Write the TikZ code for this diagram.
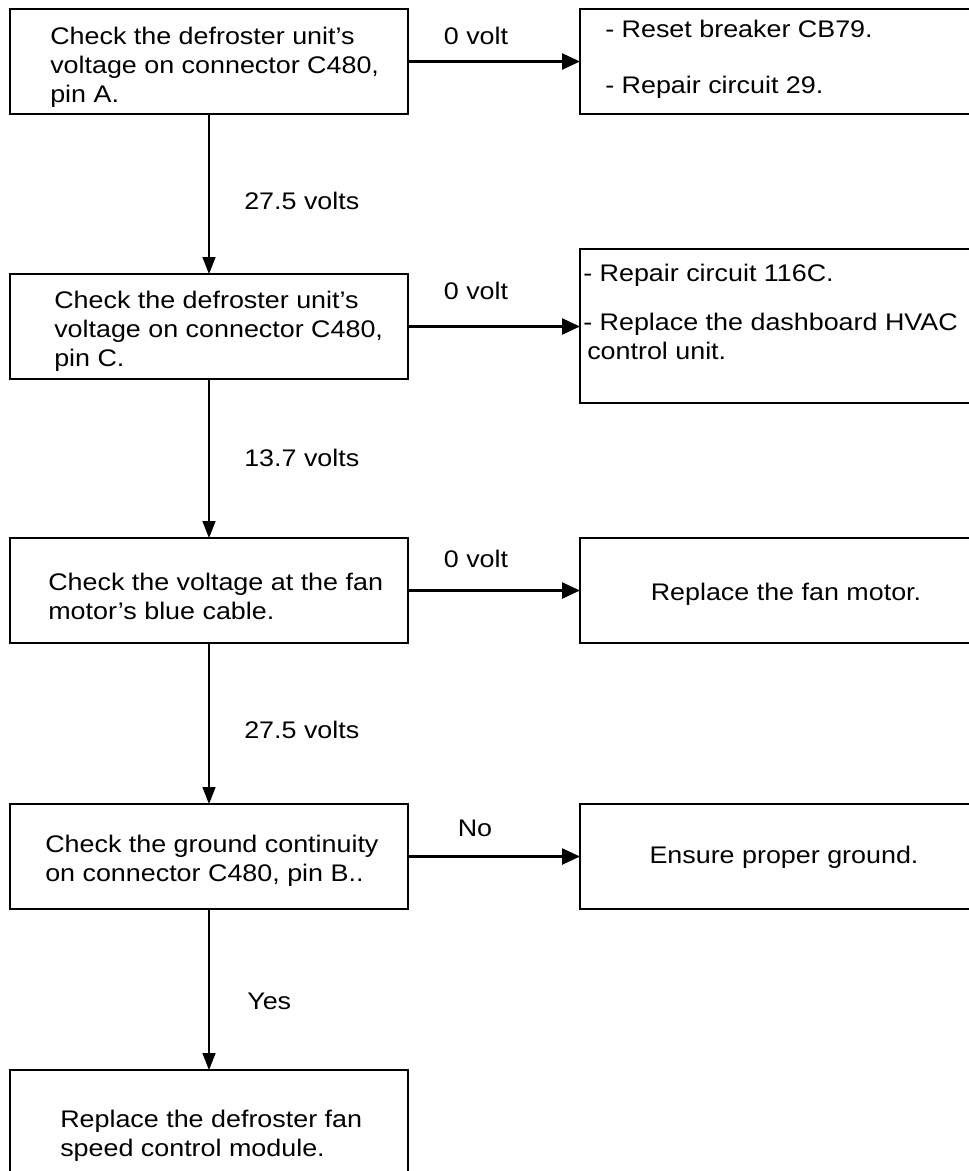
\documentclass[tikz,border=0pt]{standalone}
\usepackage{fontspec}
\setmainfont[FakeStretch=1.12]{Liberation Sans}
\usetikzlibrary{arrows.meta}
\begin{document}
\begin{tikzpicture}[x=0.75pt,y=-0.75pt,
  box/.style={draw, line width=1.5pt, rectangle, inner sep=0pt, outer sep=0pt, anchor=north west, minimum width=298.5pt, minimum height=78.75pt},
  rbox/.style={box, minimum width=300pt},
  txt/.style={font=\fontsize{18}{21.75}\selectfont, align=left, inner sep=0pt, anchor=base west},
  lbl/.style={font=\fontsize{18}{21.75}\selectfont, inner sep=0pt},
  harrow/.style={line width=1.9pt, -{Triangle[length=13.5pt,width=12pt]}},
  varrow/.style={line width=1.2pt, -{Triangle[length=12.75pt,width=9.75pt]}}]
\clip (0,0) rectangle (969,1171);
\fill[white] (0,0) rectangle (969,1171);
% boxes
\node[box] (b1) at (10,9) {};
\node[rbox] (r1) at (580,9) {};
\node[box] (b2) at (10,274) {};
\node[rbox, minimum height=115.5pt] (r2) at (580,249) {};
\node[box] (b3) at (10,538) {};
\node[rbox] (r3) at (580,538) {};
\node[box] (b4) at (10,804) {};
\node[rbox] (r4) at (580,804) {};
\node[box, minimum height=90pt] (b5) at (10,1070) {};
% texts (anchored at the baseline of their last line)
\node[txt] (t1) at (50,102) {Check the defroster unit’s\\voltage on connector C480,\\pin A.};
\node[txt] (t2) at (54,366) {Check the defroster unit’s\\voltage on connector C480,\\pin C.};
\node[txt] (t3) at (48,619) {Check the voltage at the fan\\motor’s blue cable.};
\node[txt] (t4) at (45,881) {Check the ground continuity\\on connector C480, pin B..};
\node[txt] (t5) at (60,1156) {Replace the defroster fan\\speed control module.};
\node[txt] (tr1) at (605,93) {- Reset breaker CB79.\\[20.25pt]- Repair circuit 29.};
\node[txt] (tr2) at (583,359) {- Repair circuit 116C.\\[15pt]- Replace the dashboard HVAC\\\hspace*{3pt}control unit.};
\node[lbl, anchor=base] (tr3) at (786,600) {Replace the fan motor.};
\node[lbl, anchor=base] (tr4) at (784,863) {Ensure proper ground.};
% connectors
\draw[harrow] (b1.east) -- (b1.east -| r1.west);
\draw[harrow] (b2.east) -- (b2.east -| r2.west);
\draw[harrow] (b3.east) -- (b3.east -| r3.west);
\draw[harrow] (b4.east) -- (b4.east -| r4.west);
\draw[varrow] (b1.south) -- (b2.north);
\draw[varrow] (b2.south) -- (b3.north);
\draw[varrow] (b3.south) -- (b4.north);
\draw[varrow] (b4.south) -- (b5.north);
% labels
\node[lbl, anchor=base] (l1) at (476,44) {0 volt};
\node[lbl, anchor=base] (l2) at (476,299) {0 volt};
\node[lbl, anchor=base] (l3) at (476,567) {0 volt};
\node[lbl, anchor=base] (l4) at (475,836) {No};
\node[lbl, anchor=base west] (v1) at (244,209) {27.5 volts};
\node[lbl, anchor=base west] (v2) at (244,466) {13.7 volts};
\node[lbl, anchor=base west] (v3) at (244,738) {27.5 volts};
\node[lbl, anchor=base west] (v4) at (247,1009) {Yes};
\end{tikzpicture}
\end{document}
